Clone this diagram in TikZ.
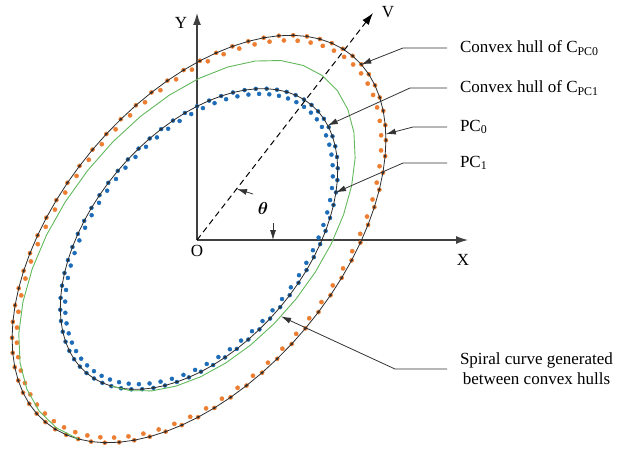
\documentclass[tikz,border=0pt]{standalone}
\usepackage{bm}
\usepackage{fontspec}
\setmainfont{Liberation Serif}
\usetikzlibrary{calc,arrows.meta}

\definecolor{pcorange}{RGB}{237,125,49}
\definecolor{pcblue}{RGB}{28,108,184}
\definecolor{spiralgreen}{RGB}{98,184,92}
\definecolor{hullgray}{RGB}{45,45,45}

\tikzset{
  declare function={
    ex(\ra,\rb,\ang)=199+\ra*cos(50)*cos(\ang)-\rb*sin(50)*sin(\ang);
    ey(\ra,\rb,\ang)=239-\ra*sin(50)*cos(\ang)-\rb*cos(50)*sin(\ang);
    sa(\ang)=175+(\ang-195)/360*64;
    sb(\ang)=106+(\ang-195)/360*33;
  },
  axis/.style={draw=black!75, line width=1.2pt, -{Latex[length=12pt,width=8pt]}},
  callout/.style={draw=black!80, line width=0.8pt, -{Latex[length=10pt,width=6pt]}},
  hull/.style={hullgray, line width=0.8pt},
  lbl/.style={anchor=west, inner sep=1pt, outer xsep=12pt, font=\fontsize{17}{20}\selectfont},
  axlbl/.style={inner sep=1pt, font=\fontsize{17}{20}\selectfont},
}

\begin{document}
\begin{tikzpicture}[x=1pt, y=-1pt]
\useasboundingbox (0,0) rectangle (617,449);

% axes
\coordinate (O) at (197,240);
\coordinate (xend) at (468,240);
\coordinate (yend) at (197,13);
\coordinate (vend) at (373,13);
\draw[axis] (O) -- (xend);
\draw[axis] (O) -- (yend);
\node[axlbl] (xlab) at (463,260) {X};
\node[axlbl] (ylab) at (181,23) {Y};
\node[axlbl] (olab) at (197,251) {O};
\node[axlbl] (vlab) at (388,12) {V};

% point clouds
\draw[pcorange] plot[only marks, mark=*, mark size=2.1pt, domain=0:355, samples=72]
  ({ex(239,139,\x)},{ey(239,139,\x)});
\draw[pcorange] plot[only marks, mark=*, mark size=2.1pt, domain=2.5:357.5, samples=72]
  ({ex(0.975*239,0.975*139,\x)},{ey(0.975*239,0.975*139,\x)});
\draw[pcblue] plot[only marks, mark=*, mark size=2pt, domain=0:355, samples=72]
  ({ex(175,106,\x)},{ey(175,106,\x)});
\draw[pcblue] plot[only marks, mark=*, mark size=2pt, domain=2.5:357.5, samples=72]
  ({ex(0.965*175,0.965*106,\x)},{ey(0.965*175,0.965*106,\x)});

% convex hulls
\draw[hull] plot[mark=*, mark size=0.8pt, domain=0:360, samples=73]
  ({ex(239,139,\x)},{ey(239,139,\x)});
\draw[hull] plot[mark=*, mark size=0.8pt, domain=0:360, samples=73]
  ({ex(175,106,\x)},{ey(175,106,\x)});

% spiral between the hulls
\draw[spiralgreen, line width=0.9pt] plot[domain=195:555, samples=37]
  ({ex(sa(\x),sb(\x),\x)},{ey(sa(\x),sb(\x),\x)});

% direction V and angle
\draw[black, line width=1pt, dash pattern=on 6pt off 4pt, -{Latex[length=12pt,width=8pt]}] (O) -- (vend);
\coordinate (th1-tip) at (237,189);
\coordinate (th1-tail) at (253,194);
\coordinate (th2-tip) at (273,240);
\coordinate (th2-tail) at (273,223);
\draw[callout] (th1-tail) -- (th1-tip);
\draw[callout] (th2-tail) -- (th2-tip);
\node[axlbl] (theta) at (263,208) {$\bm{\theta}$};

% labels
\coordinate (hz-tip) at ({ex(239,139,-5)},{ey(239,139,-5)});
\coordinate (ho-tip) at ({ex(175,106,-14)},{ey(175,106,-14)});
\coordinate (pz-tip) at ({ex(239,139,-33)},{ey(239,139,-33)});
\coordinate (po-tip) at ({ex(175,106,-45)},{ey(175,106,-45)});
\coordinate (sp-tip) at ({ex(sa(268),sb(268),268)},{ey(sa(268),sb(268),268)});

\node[lbl] (hullzero) at (447,48) {Convex hull of C\textsubscript{PC0}};
\node[lbl] (hullone) at (447,88) {Convex hull of C\textsubscript{PC1}};
\node[lbl] (pczero) at (447,127) {PC\textsubscript{0}};
\node[lbl] (pcone) at (447,163) {PC\textsubscript{1}};
\node[lbl, align=center] (spiral) at (447,369) {Spiral curve generated\\between convex hulls};

\draw[callout] (hullzero.west) -- ++(-44,0) -- (hz-tip);
\draw[callout] (hullone.west) -- ++(-37,0) -- (ho-tip);
\draw[callout] (pczero.west) -- ++(-34,0) -- (pz-tip);
\draw[callout] (pcone.west) -- ++(-44,0) -- (po-tip);
\draw[callout] (spiral.west) -- ++(-52,0) -- (sp-tip);
\end{tikzpicture}
\end{document}
